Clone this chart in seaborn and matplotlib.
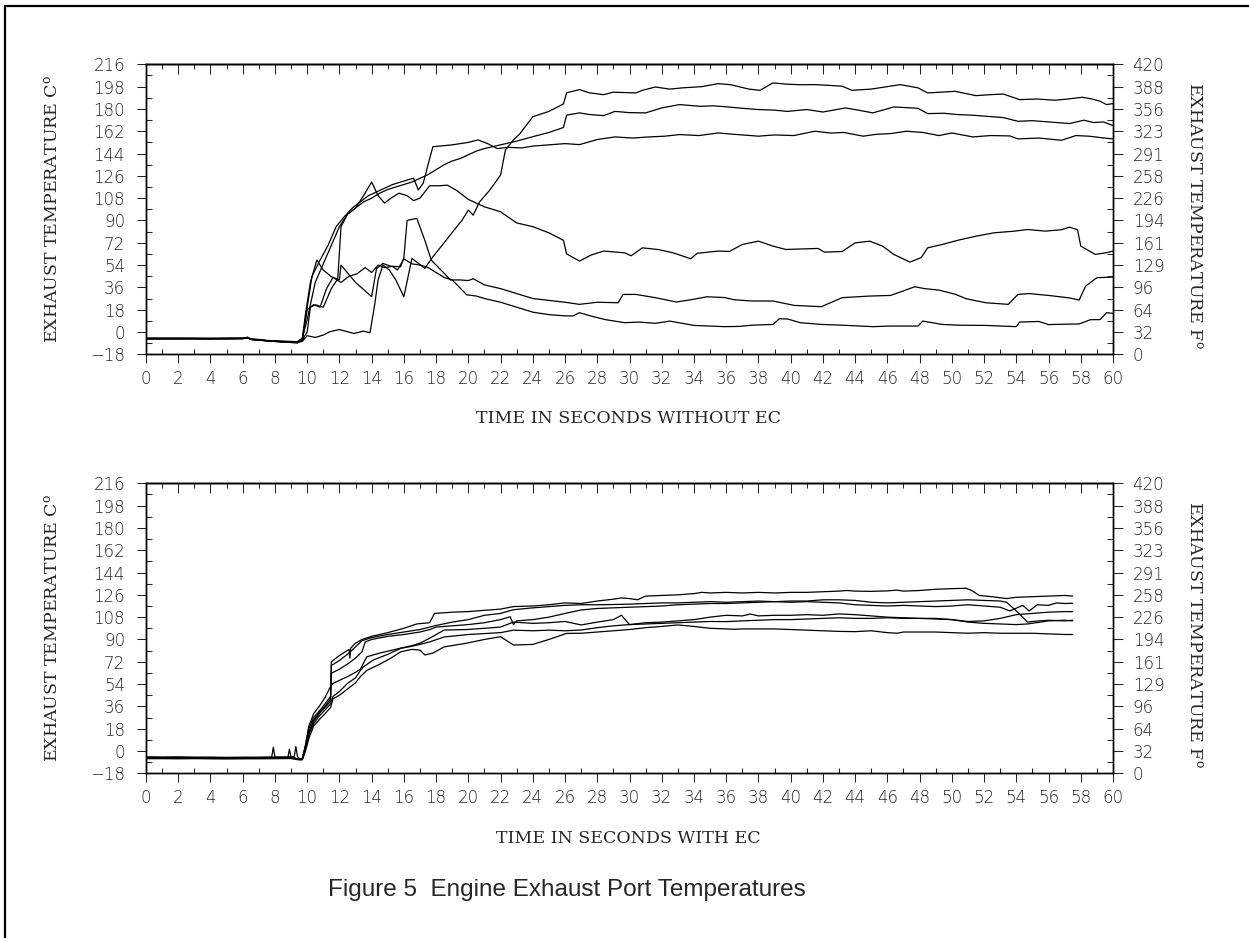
import matplotlib
matplotlib.use('Agg')
import matplotlib.pyplot as plt
from matplotlib.lines import Line2D
from matplotlib.ticker import MultipleLocator, FixedLocator
import numpy as np
import pandas as pd
import seaborn as sns

# ---- axis scales ----
c_ticks = list(range(-18, 217, 18))
f_ticks = list(np.linspace(0, 420, 14))
f_labels = ['0', '32', '64', '96', '129', '161', '194', '226', '258', '291',
            '323', '356', '388', '420']
x_ticks = list(range(0, 61, 2))

# ---- upper panel: without EC (time s, temperature C) ----
top_a_t = [0, 1, 2, 3, 4, 5, 6, 6.3, 6.5, 7, 7.5, 8, 8.5, 9, 9.4, 9.7, 10, 10.5, 11, 11.4,
           12, 12.9, 13.5, 13.9, 14.2, 14.4, 14.7, 15.1, 15.5, 16, 16.5, 17.3, 17.8, 18.5, 19.1,
           19.6, 20, 20.3, 20.7, 21.3, 22, 22.3, 22.8, 23.2, 24, 25, 25.9, 26.1, 26.9, 27.5,
           28.4, 29, 30.4, 30.8, 31.6, 32.5, 33.3, 34.5, 35.5, 36.3, 37.4, 38.1, 38.9, 39.7,
           40.6, 41.5, 42.4, 43.2, 43.8, 45, 46, 46.8, 47.9, 48.5, 49.3, 50.2, 51.5, 52.4, 53.2,
           54.2, 55.3, 56.4, 57.2, 58.1, 58.7, 59.2, 59.6, 60]
top_a_c = [-5.5, -5.5, -5.4, -5.5, -5.5, -5.3, -5.2, -4.6, -6, -6.5, -7, -7.5, -7.8, -8, -8.2,
           -7.5, -3, -4.4, -2.5, 0.2, 2, -1.2, 0.7, -0.6, 23, 42, 54, 50, 42, 28.4, 59.4, 51.3,
           60.7, 72, 82, 90, 98.4, 94.3, 105, 114, 126.6, 146.8, 155, 160, 173.7, 178, 184, 193,
           195.6, 193, 191.5, 193.5, 192.9, 195, 197.7, 196, 197, 198, 200.4, 199.5, 196, 195,
           201, 200, 199.5, 199.6, 199, 198.3, 195, 196, 198, 199.6, 197, 192.9, 193.5, 194.2,
           190.7, 191.5, 192, 187.5, 188, 187, 188, 189.4, 188, 186.2, 183.5, 184.3]

top_b_t = [0, 1, 2, 3, 4, 5, 6, 6.3, 6.5, 7, 7.5, 8, 8.5, 9, 9.4, 9.7, 10.0, 10.5, 11, 11.5,
           12, 12.5, 13, 13.5, 14, 14.5, 15, 15.5, 16, 16.5, 17, 17.5, 18, 18.5, 19, 19.5, 20,
           20.5, 21, 22, 23, 24, 25, 25.9, 26.1, 26.9, 27.5, 28.4, 29.1, 30, 31, 32, 33.1, 34.4,
           35.2, 36.1, 37, 38, 39, 39.8, 41, 42, 43.4, 44.2, 45.1, 46.4, 47.9, 48.5, 49.5, 50.4,
           51.2, 52.1, 53.2, 54.1, 55, 56, 57.3, 58.2, 58.8, 59.4, 60]
top_b_c = [-5, -5, -5, -5, -5.2, -5, -5, -4.2, -5.5, -6, -6.8, -7, -7.3, -7.6, -7.8, -5, 10, 40,
           55, 70, 85, 95, 100, 105, 108, 112, 115, 117, 119, 121, 124, 127, 131, 135, 138, 140,
           143, 146, 148, 151, 154, 157.6, 161, 165, 175, 176.8, 175.5, 174.6, 178, 177, 176.8,
           180.8, 183.5, 182.1, 182.5, 181.6, 180.5, 179.5, 179, 178, 179.5, 177.5, 180.8, 179,
           176.8, 181.6, 180.5, 176.2, 176.5, 175.4, 175, 174.1, 173, 170, 170.5, 169.5, 168.2,
           170.9, 169, 169.5, 166.6]

top_c_t = [0, 1, 2, 3, 4, 5, 6, 6.3, 6.5, 7, 7.5, 8, 8.5, 9, 9.4, 9.7, 10.0, 10.3, 10.8, 11.3,
           11.8, 12.3, 12.8, 13.3, 13.8, 14.3, 14.8, 15.3, 15.8, 16.3, 16.6, 16.9, 17.2, 17.5,
           17.8, 18.2, 19, 20, 20.6, 21.2, 21.8, 22.5, 23.3, 24, 25, 26, 26.9, 28, 29.1, 30.2,
           31.2, 32.2, 33.1, 34.3, 35.5, 36.5, 38, 39, 40.2, 41.5, 42.5, 43.3, 44.5, 45.3, 46.2,
           47.2, 48.2, 49.2, 50, 51.3, 52.4, 53.6, 54.1, 55.4, 56.8, 57.7, 58.5, 59.4, 60]
top_c_c = [-5.5, -5.5, -5.5, -5.4, -5.5, -5.5, -5.4, -4.8, -6, -6.5, -7.2, -7.6, -8, -8.4, -8.6,
           -7, 20, 45, 58, 70, 85, 93, 100, 105, 110, 113, 116, 119, 121, 123, 124, 114.6, 120,
           135, 149.5, 150, 151, 153, 155, 152, 148, 149, 148.5, 150, 151, 152, 151.2, 155.3,
           157.4, 156.5, 157.4, 158, 159.3, 158.5, 160.6, 159.5, 158, 159, 158.5, 162, 160.5,
           161, 158, 159.5, 160.1, 162, 161, 158.5, 160.6, 157.4, 158.5, 158.2, 155.8, 156.5,
           154.7, 158.5, 158, 156.6, 155.8]

top_d_t = [0, 1, 2, 3, 4, 5, 6, 6.3, 6.5, 7, 7.5, 8, 8.5, 9, 9.4, 9.7, 10.0, 10.2, 10.5, 11,
           11.5, 11.9, 12.1, 12.5, 13, 13.5, 14.0, 14.4, 14.8, 15.2, 15.7, 16.2, 16.6, 17.0,
           17.6, 18.2, 18.7, 19.3, 20, 21, 22, 23, 24, 25, 25.9, 26.1, 26.9, 27.6, 28.4, 29.7,
           30.1, 30.8, 31.8, 32.7, 33.8, 34.2, 35.5, 36.2, 37, 38, 38.9, 39.7, 40.7, 41.7, 42.1,
           43.2, 44, 44.9, 45.7, 46.4, 47.4, 48.1, 48.5, 49.4, 50.4, 51.5, 52.6, 53.9, 54.7,
           55.8, 56.8, 57.3, 57.8, 58.0, 58.9, 59.6, 60]
top_d_c = [-5, -5, -5, -5.1, -5, -5, -5, -4.4, -5.8, -6.3, -7, -7.4, -7.8, -8.2, -8.5, -6.5, 0,
           20, 22, 20, 35, 43, 85, 95, 100, 110, 121, 110, 104, 108, 112, 110, 106, 108, 118,
           118, 118.5, 114, 107, 101, 97, 88, 85, 80, 74, 63, 57.2, 62, 65.3, 63.9, 61.5, 67.9,
           66.5, 63.9, 59.1, 63.5, 65.3, 65, 70.6, 73.3, 69.3, 66.6, 67, 67.4, 64.4, 65, 71.9,
           73.3, 69.3, 62.6, 56.4, 60, 67.9, 70.6, 74.1, 77.3, 80, 81.4, 82.7, 81.4, 82.5, 84.6,
           82.5, 69.3, 62.6, 64, 65.3]

top_e_t = [0, 1, 2, 3, 4, 5, 6, 6.3, 6.5, 7, 7.5, 8, 8.5, 9, 9.4, 9.7, 9.9, 10.2, 10.6, 11.0,
           11.5, 12.0, 12.1, 13.0, 14.0, 14.3, 14.7, 15.2, 15.8, 16.0, 16.2, 16.8, 17.3, 17.7,
           18.3, 18.9, 19.5, 20.0, 20.3, 21, 22, 23, 24, 25, 26, 26.9, 28, 29.3, 29.6, 30.4,
           31.6, 32.9, 33.8, 34.8, 35.9, 36.5, 37.6, 38.9, 40.2, 41.9, 43.2, 44.9, 46.2, 47.7,
           48.3, 49.2, 50.2, 50.9, 52.1, 53.5, 54.1, 54.8, 56, 57.3, 57.9, 58.3, 59, 60]
top_e_c = [-5.3, -5.3, -5.3, -5.3, -5.4, -5.3, -5.2, -4.5, -5.9, -6.4, -7, -7.5, -7.9, -8.3, -8,
           -5, 15, 40, 58, 50, 44.6, 42, 54, 40, 28.5, 51, 55.3, 53, 52.7, 60, 90, 91.7, 74, 58,
           50, 42, 42, 41.5, 43, 38, 35, 31, 27, 25.5, 24, 22.3, 24, 23.6, 30.3, 30.3, 27.7,
           24.2, 26, 28.4, 27.8, 26, 25, 25, 21.5, 20.4, 27.7, 29, 29.5, 36.5, 35, 33.8, 30.5,
           26.8, 23.6, 22.3, 30.3, 31, 29.5, 27.5, 25.8, 37, 43.8, 44.3]

top_f_t = [0, 1, 2, 3, 4, 5, 6, 6.3, 6.5, 7, 7.5, 8, 8.5, 9, 9.4, 9.7, 10.0, 10.4, 10.8, 11.2,
           11.6, 12.1, 12.6, 13.1, 13.6, 14.0, 14.4, 14.8, 15.3, 15.6, 16.0, 16.5, 17.0, 17.5,
           18.0, 18.5, 19, 19.9, 20.5, 21, 22, 23, 24, 25, 26, 26.5, 26.9, 27.6, 28.5, 29.7,
           30.6, 31.6, 32.5, 34, 35.9, 36.8, 37.6, 38.9, 39.3, 39.8, 40.6, 41.9, 43.2, 45.1,
           46.2, 47.9, 48.2, 49.4, 50.4, 52.1, 54, 54.2, 55.4, 56, 57.9, 58.6, 59.2, 59.6, 60]
top_f_c = [-5.5, -5.5, -5.5, -5.5, -5.6, -5.5, -5.4, -4.7, -6.1, -6.6, -7.2, -7.7, -8.1, -8.5,
           -8.8, -6, 18, 22, 20, 35, 44, 40, 45, 47, 52, 48, 54, 52, 53, 50, 59, 55, 54, 52, 48,
           44, 42, 30, 29, 27, 24, 20, 16, 14, 13, 13, 15.6, 12.9, 10, 7.5, 8, 7, 8.8, 5.3, 4.3,
           4.5, 5.5, 6.1, 10.7, 10.5, 7.5, 6.1, 5.5, 4.3, 4.8, 4.8, 8.8, 6.1, 5.5, 5.3, 4.3, 8,
           8.5, 6, 6.5, 9.9, 10, 15.6, 15]

# ---- lower panel: with EC (time s, temperature C) ----
bot_u1_t = [0, 1, 2, 3, 4, 5, 6, 7, 7.8, 7.9, 8.0, 9, 9.5, 9.7, 9.9, 10.1, 10.4, 10.8, 11.1,
            11.45, 11.5, 12, 12.6, 12.65, 12.7, 13, 13.4, 14, 15, 16, 16.8, 17.6, 17.9, 19, 20,
            21, 22, 22.8, 24, 25, 26, 27, 28, 29, 29.5, 30, 30.5, 31, 32, 33, 34, 34.5, 35, 36,
            37, 38, 39, 40, 41, 42, 43, 43.5, 44, 45, 46, 46.6, 47, 48, 49, 50, 50.9, 51.3, 51.7,
            52.5, 53.4, 54, 55, 56, 57, 57.5]
bot_u1_c = [-5, -5.2, -5, -5.3, -5.2, -5.5, -5.4, -5.3, -5, 3, -5, -5.2, -6.5, -6.5, 5, 18, 27,
            33, 38, 44, 72, 77, 82, 75, 83, 87, 90, 92.5, 95.5, 99, 102.5, 103.5, 111, 112,
            112.5, 113.5, 114.5, 116.5, 117, 118, 119.5, 119, 121, 122.5, 123.5, 123, 122, 125,
            125.5, 126, 127, 128, 127.5, 128, 127.5, 128, 127.5, 128, 128, 128.5, 129, 129.5,
            129, 128.8, 129.2, 129.8, 129, 129.5, 130.5, 131, 131.3, 129, 125.5, 124.5, 123, 124,
            124.5, 125, 125.5, 125]

bot_u2_t = [0, 1, 2, 3, 4, 5, 6, 7, 8, 8.8, 8.9, 9.0, 9.5, 9.7, 9.9, 10.1, 10.4, 10.8, 11.1,
            11.45, 11.5, 12, 12.6, 13, 13.4, 14, 15, 16, 17, 17.9, 19, 20, 21, 22, 22.8, 24, 25,
            26, 27, 28, 29, 30, 31, 32, 33, 34, 35, 36, 37, 38, 39, 40, 41, 42, 43, 44, 45, 46,
            47, 48, 49, 50, 51, 52, 53, 53.4, 54, 54.7, 55, 56, 57, 57.5]
bot_u2_c = [-5.5, -5.5, -5.6, -5.5, -5.7, -5.6, -5.8, -5.6, -5.5, -5.3, 1.5, -5.5, -6.8, -7, 3,
            15, 25, 32, 36, 42, 69, 73, 79, 84, 89, 91.5, 94, 96, 98, 101, 104, 106, 109.5, 111,
            114, 115.5, 116.5, 117.5, 118, 118, 118.2, 118.5, 119, 119.5, 119.5, 120, 120.5, 120,
            120.5, 121, 120.5, 121, 121, 122, 122, 121.5, 120, 119.5, 120, 120.5, 121, 121.5,
            122, 121.5, 121, 120, 113, 104, 104.5, 105.5, 105, 105.5]

bot_u3_t = [0, 1, 2, 3, 4, 5, 6, 7, 8, 9, 9.2, 9.3, 9.4, 9.5, 9.7, 9.9, 10.1, 10.4, 10.8, 11.1,
            11.45, 11.5, 12, 12.6, 13, 13.4, 13.6, 14, 15, 16, 17, 17.6, 18, 19, 20, 21, 22, 22.6,
            22.8, 23, 24, 25, 26, 27, 28, 29, 30, 31, 32, 33, 34, 35, 36, 37, 38, 39, 40, 41, 42,
            43, 44, 45, 46, 47, 48, 49, 50, 51, 52, 53, 53.6, 54.4, 54.8, 55.3, 56, 56.5, 57,
            57.5]
bot_u3_c = [-4.8, -4.9, -4.8, -5, -5, -5.1, -5, -5, -4.9, -4.8, -4.5, 3.5, -4.5, -6, -6.5, 2, 14,
            24, 31, 35, 40, 62.7, 66, 71, 75, 80, 88, 90, 92.5, 94, 96, 98, 100, 101, 102, 103.5,
            106, 108.3, 102, 105, 106, 108, 111, 113.8, 115, 115.5, 116, 116.5, 117, 118, 118.5,
            119, 119, 119.5, 120, 120.5, 120, 120.5, 120, 119.5, 118, 117.5, 117, 117.5, 117,
            116.5, 117, 118, 117, 116, 113, 117.5, 113, 118, 117.5, 119.5, 119, 119.2]

bot_l1_t = [0, 1, 2, 3, 4, 5, 6, 7, 8, 9, 9.5, 9.7, 9.9, 10.1, 10.4, 10.8, 11.1, 11.45, 11.6, 12,
            12.5, 13, 13.3, 13.7, 14.5, 15, 15.8, 16.5, 17, 17.6, 18.5, 19.9, 21, 22, 22.8, 24,
            25, 26, 27, 28, 29, 29.5, 30, 31, 32, 33, 34, 35, 36, 37, 37.5, 38, 39, 40, 41, 42,
            43, 44, 45, 46, 47, 48, 49, 50, 51, 52, 53, 54, 55, 56, 57, 57.5]
bot_l1_c = [-5.8, -5.8, -5.9, -5.8, -6, -6, -6, -5.9, -5.8, -5.7, -6.3, -6, 5, 20, 30, 37, 43,
            52, 54.5, 57, 60, 63.5, 66, 76, 79, 80.5, 83, 85, 87, 91, 97.6, 98, 99, 100, 104,
            103, 103.5, 104.5, 101.7, 104, 106, 109.5, 102, 103.5, 104, 105, 106, 108, 109.5,
            109, 110.5, 109, 109.5, 109.5, 110, 109.5, 110.6, 110, 109, 108, 107.5, 107, 106.5,
            106, 104.5, 105, 107, 110, 111, 112, 112.5, 112.4]

bot_l2_t = [0, 1, 2, 3, 4, 5, 6, 7, 8, 9, 9.5, 9.7, 9.9, 10.1, 10.4, 10.8, 11.1, 11.45, 11.6, 12,
            12.5, 13, 13.3, 13.5, 14.1, 15, 15.8, 16.5, 17, 17.6, 18.5, 20, 22, 22.8, 24, 25, 26,
            27, 28, 29, 30, 31, 32, 33, 34, 35, 36, 37, 38, 39, 40, 41, 42, 43, 44, 45, 46, 47,
            48, 49, 50, 51, 52, 53, 54, 54.7, 55.5, 56, 57, 57.5]
bot_l2_c = [-5.3, -5.3, -5.4, -5.3, -5.5, -5.5, -5.4, -5.4, -5.3, -5.2, -6.6, -6.5, 3, 13, 22, 29,
            33, 38, 44, 48, 54.5, 59, 65, 68, 73.4, 78, 82.8, 84.5, 86, 88, 92, 94, 95.5, 97.5,
            97, 97.5, 97, 97.6, 99.5, 101, 102, 102.5, 103, 103.5, 104, 104.5, 104.4, 105, 105.5,
            106, 106, 106.5, 107, 107.5, 107, 107, 107.5, 107, 107, 107, 106, 104, 103, 102.5,
            102, 102.5, 104, 105, 105.5, 105]

bot_l3_t = [0, 1, 2, 3, 4, 5, 6, 7, 8, 9, 9.5, 9.7, 9.9, 10.1, 10.4, 10.8, 11.1, 11.45, 11.6, 12,
            12.5, 13, 13.3, 13.7, 14.5, 15.2, 15.8, 16.5, 17, 17.3, 17.8, 18.5, 19.9, 21, 22,
            22.8, 24, 25, 26.1, 27, 28, 29, 30, 31, 32, 33, 34, 35, 36, 36.5, 37, 38, 39, 40, 41,
            42, 43, 44, 45, 46, 46.6, 47, 48, 49, 50, 51, 52, 53, 54, 55, 56, 57, 57.5]
bot_l3_c = [-6.2, -6.2, -6.3, -6.2, -6.3, -6.4, -6.3, -6.3, -6.2, -6.1, -7.2, -7, 0, 10, 20, 26,
            30, 35, 42, 45, 50, 55, 60, 65, 70, 75, 80, 82, 81.4, 77.5, 79, 84, 87, 90, 92.2,
            85.5, 86, 90, 94.9, 95, 96, 97, 98, 99.5, 100.5, 101.7, 100.5, 99, 98.5, 98.2, 98.5,
            98.5, 98.5, 98, 97.5, 97, 96.5, 96.3, 97, 95.5, 95, 96, 96, 96, 95.5, 95, 95.5, 95,
            95, 95, 94.5, 94, 94]

top_series = {'A': (top_a_t, top_a_c), 'B': (top_b_t, top_b_c), 'C': (top_c_t, top_c_c),
              'D': (top_d_t, top_d_c), 'E': (top_e_t, top_e_c), 'F': (top_f_t, top_f_c)}
bot_series = {'U1': (bot_u1_t, bot_u1_c), 'U2': (bot_u2_t, bot_u2_c), 'U3': (bot_u3_t, bot_u3_c),
              'L1': (bot_l1_t, bot_l1_c), 'L2': (bot_l2_t, bot_l2_c), 'L3': (bot_l3_t, bot_l3_c)}


def to_long(series):
    frames = []
    for name, (t, c) in series.items():
        assert len(t) == len(c), f'{name}: {len(t)} times vs {len(c)} values'
        frames.append(pd.DataFrame({'time': t, 'temp': c, 'port': name}))
    return pd.concat(frames, ignore_index=True)


sns.set_style('ticks')
plt.rcParams['font.family'] = ['DejaVu Sans']
plt.rcParams['font.weight'] = 'light'
plt.rcParams['mathtext.fontset'] = 'dejavuserif'
plt.rcParams['axes.edgecolor'] = 'black'

W, H = 1249, 938
fig = plt.figure(figsize=(W / 100, H / 100), dpi=100)
fig.patch.set_facecolor('white')

LABEL_SIZE = 12.5


def px_box(left, top, right, bottom):
    return [left / W, 1 - bottom / H, (right - left) / W, (bottom - top) / H]


def draw_panel(top_px, bot_px, data, xlabel, label_y):
    ax = fig.add_axes(px_box(146, top_px, 1113, bot_px))
    sns.lineplot(data=data, x='time', y='temp', hue='port', palette=['black'] * 6,
                 estimator=None, sort=False, legend=False, linewidth=0.9, ax=ax)
    ax.set_xlim(0, 60)
    ax.set_ylim(-18, 216)
    ax.set_xlabel('')
    ax.set_ylabel('')
    ax.set_xticks(x_ticks)
    ax.xaxis.set_minor_locator(MultipleLocator(1))
    ax.set_yticks(c_ticks)
    ax.yaxis.set_minor_locator(MultipleLocator(9))
    ax.tick_params(axis='x', which='major', direction='out', length=6.5, width=0.75,
                   pad=5, labelsize=12, bottom=True, top=False)
    ax.tick_params(axis='x', which='minor', direction='in', length=3.6, width=0.75,
                   bottom=True, top=False)
    ax.tick_params(axis='y', which='major', direction='out', length=6.5, width=0.75,
                   pad=8.5, labelsize=12, left=True, right=False)
    ax.tick_params(axis='y', which='minor', direction='in', length=4.5, width=0.75,
                   left=True, right=False)
    for s in ax.spines.values():
        s.set_linewidth(1.0)
        s.set_color('black')

    # top edge: ticks every second pointing inward
    sec = ax.secondary_xaxis('top')
    sec.xaxis.set_major_locator(FixedLocator(x_ticks))
    sec.xaxis.set_minor_locator(MultipleLocator(1))
    sec.tick_params(axis='x', which='major', direction='in', length=7, width=0.75,
                    labeltop=False, top=True)
    sec.tick_params(axis='x', which='minor', direction='in', length=3.6, width=0.75, top=True)
    sec.spines['top'].set_linewidth(1.0)

    # right edge: Fahrenheit
    axr = ax.twinx()
    axr.set_ylim(0, 420)
    axr.set_yticks(f_ticks)
    axr.set_yticklabels(f_labels)
    axr.yaxis.set_minor_locator(FixedLocator(list(np.linspace(0, 420, 27))))
    axr.tick_params(axis='y', which='major', direction='out', length=7.2, width=0.75,
                    pad=7, labelsize=12, right=True, left=False)
    axr.tick_params(axis='y', which='minor', direction='in', length=4.5, width=0.75,
                    right=True, left=False)
    for s in axr.spines.values():
        s.set_linewidth(1.0)
        s.set_color('black')

    mid_y = 1 - ((top_px + bot_px) / 2) / H
    fig.text(52 / W, mid_y, r'EXHAUST TEMPERATURE C$^{\rm o}$', rotation=90,
             ha='center', va='center', family='DejaVu Serif', fontweight='normal',
             fontsize=LABEL_SIZE)
    fig.text(1195 / W, mid_y - 6 / H, r'EXHAUST TEMPERATURE F$^{\rm o}$', rotation=-90,
             ha='center', va='center', family='DejaVu Serif', fontweight='normal',
             fontsize=LABEL_SIZE)
    fig.text(628 / W, 1 - label_y / H, xlabel, ha='center', va='center',
             family='DejaVu Serif', fontweight='normal', fontsize=LABEL_SIZE)
    return ax


draw_panel(64.3, 354.3, to_long(top_series), 'TIME IN SECONDS WITHOUT EC', 418)
draw_panel(483.3, 773.3, to_long(bot_series), 'TIME IN SECONDS WITH EC', 838)

fig.text(328 / W, 1 - 895.5 / H, 'Figure 5  Engine Exhaust Port Temperatures',
         ha='left', va='baseline', family='Liberation Sans', fontweight='normal',
         fontsize=17.5)

# page frame (top and left edges)
fig.add_artist(Line2D([5 / W, 1.0], [1 - 6 / H, 1 - 6 / H], color='black', linewidth=1.6,
                      transform=fig.transFigure))
fig.add_artist(Line2D([5 / W, 5 / W], [0, 1 - 6 / H], color='black', linewidth=1.6,
                      transform=fig.transFigure))

fig.savefig('out.png', dpi=100)
